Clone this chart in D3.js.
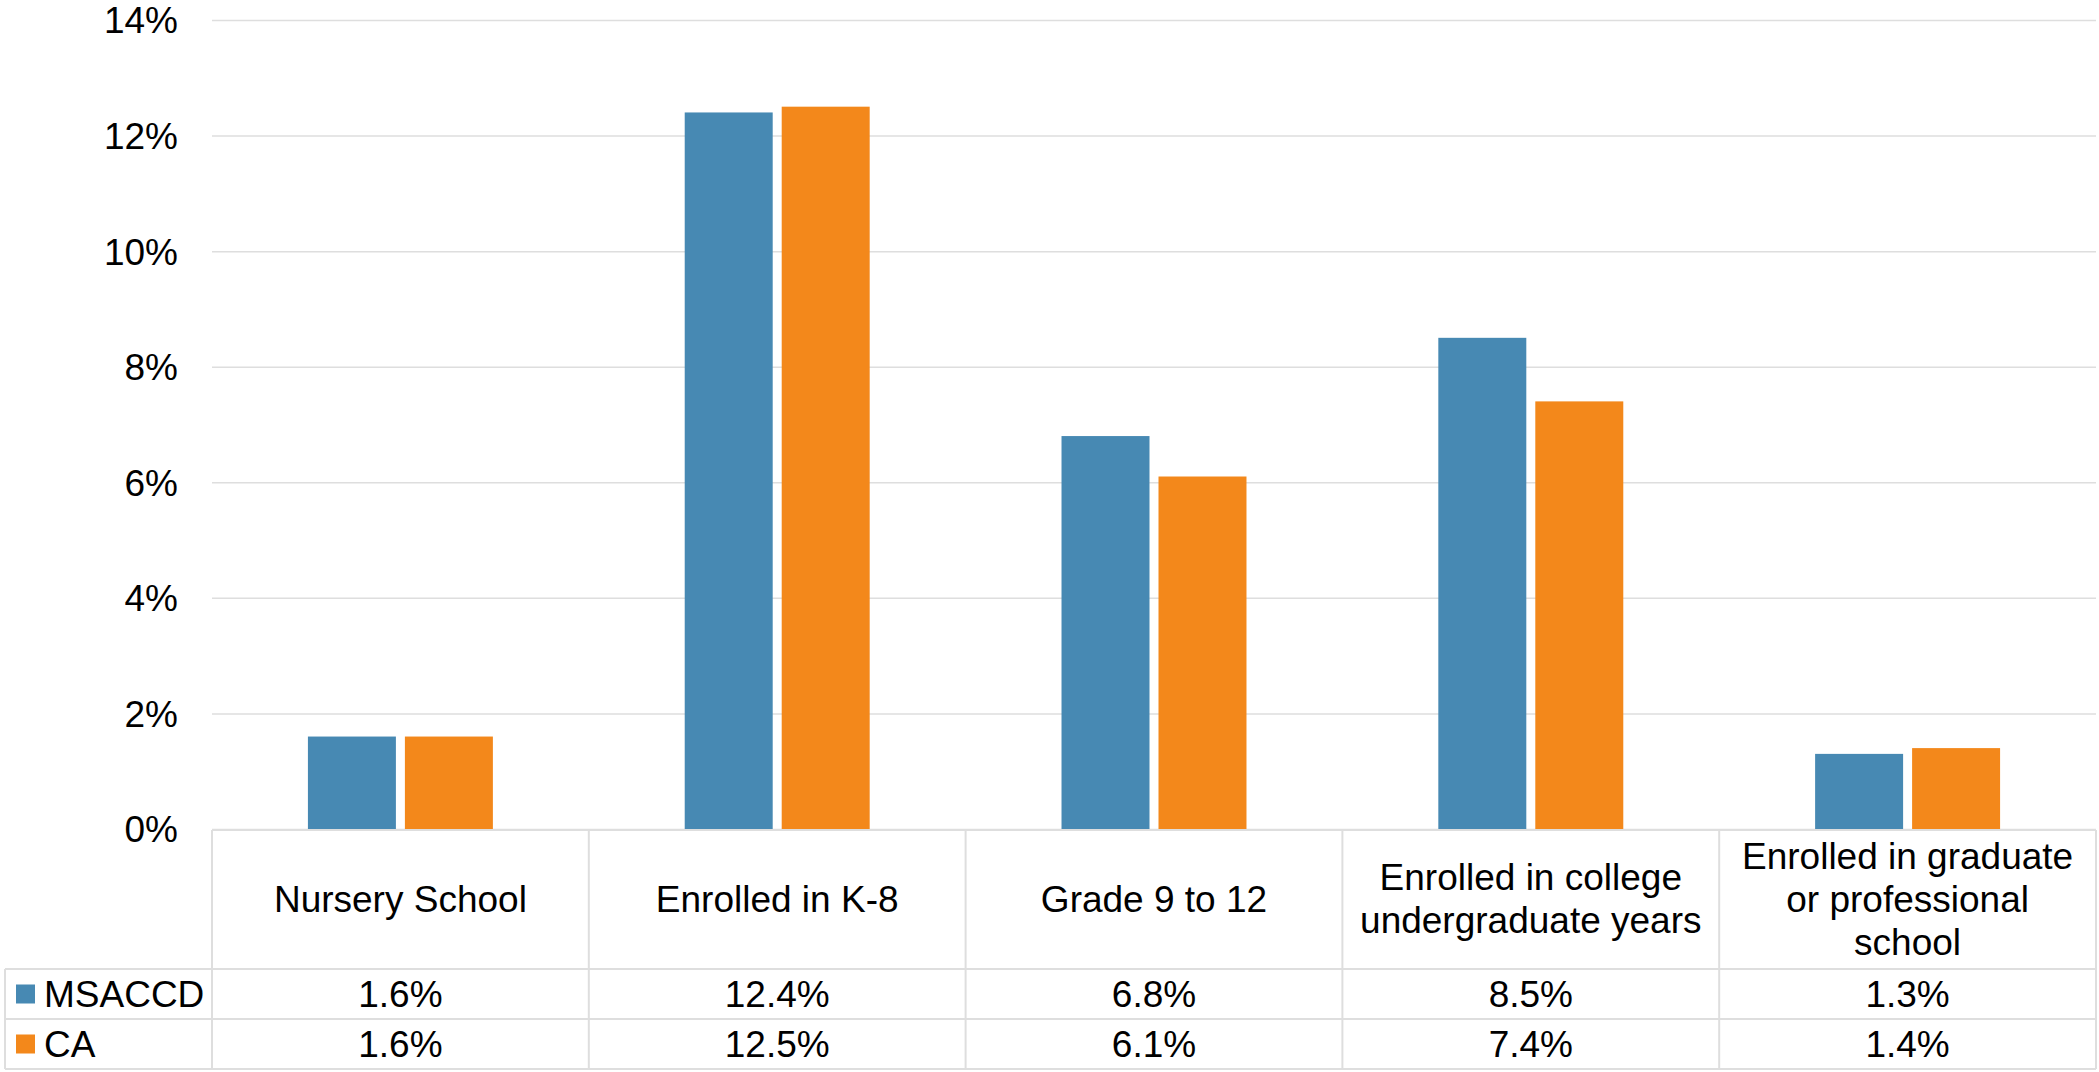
<!DOCTYPE html>
<html>
<head>
<meta charset="utf-8">
<script src="https://cdn.jsdelivr.net/npm/d3@7"></script>
<style>
  html, body { margin: 0; padding: 0; background: #ffffff; }
  svg { display: block; }
  text { font-family: "Liberation Sans", Arial, sans-serif; fill: #000; }
</style>
</head>
<body>
<script>
const categories = ["Nursery School", "Enrolled in K-8", "Grade 9 to 12", "Enrolled in college undergraduate years", "Enrolled in graduate or professional school"];
const categoryLines = [["Nursery School"], ["Enrolled in K-8"], ["Grade 9 to 12"], ["Enrolled in college", "undergraduate years"], ["Enrolled in graduate", "or professional", "school"]];
const seriesNames = ["MSACCD", "CA"];
const msaccd = [1.6, 12.4, 6.8, 8.5, 1.3];
const ca = [1.6, 12.5, 6.1, 7.4, 1.4];
const yTicks = [0, 2, 4, 6, 8, 10, 12, 14];
const colors = ["#4789B3", "#F3881B"];

const W = 2099, H = 1072;
const svg = d3.select("body").append("svg").attr("width", W).attr("height", H);

const plotLeft = 212, plotRight = 2096, plotTop = 20, plotBottom = 829;
const tableLeft = 5, headerBottom = 969, row1Bottom = 1019, row2Bottom = 1069;
const fontSize = 37;
const gridColor = "#dedede";

const x = d3.scaleBand().domain(categories).range([plotLeft, plotRight]).padding(0);
const xInner = d3.scaleBand().domain(seriesNames).range([0, x.bandwidth()]).paddingInner(0.0928).paddingOuter(0.989);
const y = d3.scaleLinear().domain([0, 14]).range([plotBottom, plotTop]);

// gridlines
const yAxis = d3.axisLeft(y).tickValues(yTicks).tickSize(-(plotRight - plotLeft)).tickFormat(d => d + "%");
const gAxis = svg.append("g").attr("transform", `translate(${plotLeft},0)`).call(yAxis);
gAxis.select(".domain").remove();
gAxis.selectAll(".tick line").attr("stroke", gridColor).attr("stroke-width", 1.5);
gAxis.selectAll(".tick text")
  .attr("x", -34)
  .attr("dy", "0.35em")
  .style("font-size", fontSize + "px")
  .style("font-family", '"Liberation Sans", Arial, sans-serif')
  .attr("fill", "#000");

// bars
const series = [msaccd, ca];
seriesNames.forEach((name, si) => {
  svg.append("g").selectAll("rect")
    .data(categories.map((c, i) => ({ c, v: series[si][i] })))
    .join("rect")
    .attr("x", d => x(d.c) + xInner(name))
    .attr("width", xInner.bandwidth())
    .attr("y", d => y(d.v))
    .attr("height", d => y(0) - y(d.v))
    .attr("fill", colors[si]);
});

// data table
const tbl = svg.append("g");
const lineStyle = sel => sel.attr("stroke", gridColor).attr("stroke-width", 2).attr("fill", "none");

tbl.append("line").attr("x1", plotLeft).attr("x2", plotRight).attr("y1", plotBottom + 1).attr("y2", plotBottom + 1).call(lineStyle);
[headerBottom, row1Bottom, row2Bottom].forEach(yy => {
  tbl.append("line").attr("x1", tableLeft).attr("x2", plotRight).attr("y1", yy).attr("y2", yy).call(lineStyle);
});
tbl.append("line").attr("x1", tableLeft).attr("x2", tableLeft).attr("y1", headerBottom).attr("y2", row2Bottom).call(lineStyle);
categories.forEach(c => {
  tbl.append("line").attr("x1", x(c)).attr("x2", x(c)).attr("y1", plotBottom + 1).attr("y2", row2Bottom).call(lineStyle);
});
tbl.append("line").attr("x1", plotRight).attr("x2", plotRight).attr("y1", plotBottom + 1).attr("y2", row2Bottom).call(lineStyle);

// header labels
const headerMid = (plotBottom + headerBottom) / 2;
const lineH = 43;
categories.forEach((c, i) => {
  const lines = categoryLines[i];
  const t = tbl.append("text")
    .attr("text-anchor", "middle")
    .style("font-size", fontSize + "px");
  lines.forEach((ln, j) => {
    t.append("tspan")
      .attr("x", x(c) + x.bandwidth() / 2)
      .attr("y", headerMid + (j - (lines.length - 1) / 2) * lineH)
      .attr("dy", "0.35em")
      .text(ln);
  });
});

// value rows
const rowMids = [(headerBottom + row1Bottom) / 2, (row1Bottom + row2Bottom) / 2];
seriesNames.forEach((name, si) => {
  const ym = rowMids[si];
  tbl.append("rect").attr("x", 16).attr("y", ym - 9.5).attr("width", 19).attr("height", 19).attr("fill", colors[si]);
  tbl.append("text").attr("x", 44).attr("y", ym).attr("dy", "0.35em").style("font-size", fontSize + "px").text(name);
  categories.forEach((c, i) => {
    tbl.append("text")
      .attr("x", x(c) + x.bandwidth() / 2)
      .attr("y", ym)
      .attr("dy", "0.35em")
      .attr("text-anchor", "middle")
      .style("font-size", fontSize + "px")
      .text(series[si][i].toFixed(1) + "%");
  });
});
</script>
</body>
</html>
